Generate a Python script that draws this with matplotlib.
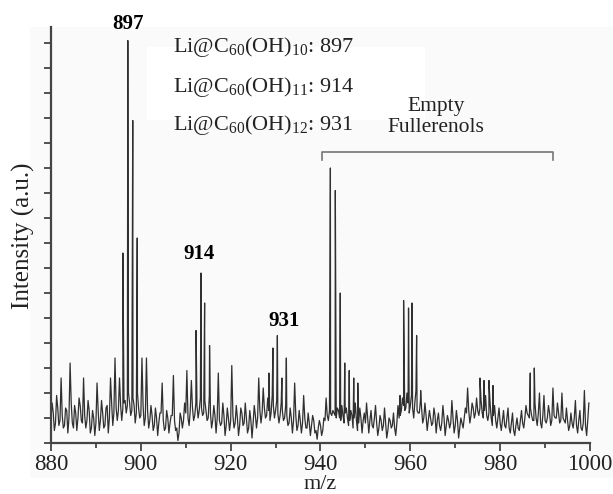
import matplotlib
matplotlib.use("Agg")
import matplotlib.pyplot as plt
import numpy as np
from matplotlib.patches import Rectangle

plt.rcParams['font.family'] = ['Liberation Serif', 'DejaVu Serif']
plt.rcParams['mathtext.fontset'] = 'custom'
plt.rcParams['mathtext.rm'] = 'Liberation Serif'
plt.rcParams['mathtext.it'] = 'Liberation Serif:italic'

# baseline noise, read every 0.5 m/z from 880.25 to 999.75 (arbitrary units)
noise_a = [
    1.6, 0.5, 1.9, 0.7, 2.6, 0.6, 1.4, 0.4, 3.2, 0.8, 1.5, 0.5, 1.8, 0.9, 2.6, 0.6, 1.7, 0.4, 1.3, 0.3,   # 880-890
    2.4, 0.5, 1.7, 0.6, 1.4, 0.4, 2.6, 0.7, 3.4, 0.9, 2.6, 0.9, 1.6, 1.2, 2.0, 1.1, 1.8, 0.8, 2.0, 1.0,   # 890-900
    3.4, 0.7, 3.4, 0.6, 1.5, 0.5, 1.4, 0.3, 1.2, 2.4, 0.5, 1.3, 0.4, 1.1, 2.7, 0.5, 0.1, 1.2, 0.6, 1.6,   # 900-910
    2.9, 0.7, 2.5, 0.9, 1.6, 1.0, 1.8, 1.1, 1.7, 0.9, 1.9, 0.6, 1.5, 0.4, 2.8, 0.7, 1.6, 0.3, 1.4, 0.5,   # 910-920
    3.1, 0.6, 1.5, 0.3, 1.4, 0.7, 1.6, 0.4, 1.3, 0.2, 1.5, 0.6, 2.6, 0.8, 2.2, 1.0, 1.8, 0.9, 1.9, 1.0,   # 920-930
    1.7, 0.8, 1.6, 0.9, 1.5, 0.7, 1.4, 0.4, 2.4, 0.5, 1.3, 0.4, 1.9, 0.6, 1.2, 0.3, 1.1, 0.4, 0.15, 0.9,  # 930-940
    0.3, 1.0, 1.8, 0.9, 1.2, 1.3, 1.1, 1.4, 1.0, 1.5, 0.8, 1.4, 0.7, 1.3, 0.6, 1.6, 0.5, 1.4, 0.4, 1.2,   # 940-950
    1.6, 0.4, 1.3, 0.6, 1.5, 0.3, 1.1, 0.5, 1.4, 0.2, 1.0, 0.6, 1.2, 0.3, 1.5, 1.1, 1.8, 1.3, 2.0, 1.2,   # 950-960
    1.9, 1.0, 2.1, 1.2, 1.7, 0.8, 1.6, 0.5, 1.3, 0.7, 1.4, 0.4, 1.2, 0.5, 1.5, 0.3, 1.1, 0.6, 1.7, 0.4,   # 960-970
    1.3, 0.2, 1.0, 0.6, 1.4, 2.2, 0.8, 1.6, 1.0, 1.8, 1.1, 1.7, 1.0, 1.9, 0.9, 1.6, 0.7, 1.5, 0.6, 1.4,   # 970-980
    0.5, 1.3, 0.6, 1.4, 0.4, 1.2, 0.3, 1.0, 0.5, 1.3, 0.6, 1.5, 1.1, 1.4, 0.9, 1.6, 0.7, 2.0, 0.6, 1.9,   # 980-990
    0.8, 1.5, 0.7, 2.2, 1.0, 1.6, 0.8, 2.0, 0.9, 1.4, 0.5, 1.2, 0.6, 1.7, 0.4, 1.3, 0.5, 2.1, 0.3, 1.6,   # 990-1000
]
# in-between noise samples, every 0.5 m/z from 880.0 to 999.5
noise_b = [
    1.0, 1.2, 0.8, 1.4, 0.9, 1.1, 0.7, 1.3, 1.0, 1.6, 0.6, 1.2, 1.0, 1.5, 0.8, 1.1, 0.9, 1.3, 0.6, 1.0,   # 880-890
    0.8, 1.3, 0.9, 1.2, 0.7, 1.5, 1.0, 1.6, 1.2, 1.4, 1.3, 1.5, 1.4, 1.7, 1.5, 1.6, 1.3, 1.5, 1.2, 1.4,   # 890-900
    1.1, 1.5, 1.0, 1.3, 0.9, 1.1, 0.7, 1.0, 0.8, 1.2, 0.9, 0.6, 1.0, 0.8, 1.1, 0.9, 0.6, 0.4, 1.0, 0.9,   # 900-910
    1.2, 1.0, 1.3, 1.4, 1.1, 1.5, 1.3, 1.4, 1.2, 1.3, 1.0, 1.2, 0.9, 1.1, 1.0, 0.9, 0.8, 1.1, 0.7, 1.0,   # 910-920
    0.9, 1.1, 0.8, 1.0, 0.7, 1.2, 0.8, 1.0, 0.6, 0.9, 0.8, 1.1, 1.0, 1.3, 1.2, 1.4, 1.1, 1.3, 1.2, 1.5,   # 920-930
    1.3, 1.2, 1.1, 1.3, 1.0, 1.1, 0.8, 1.0, 0.9, 1.1, 0.7, 0.9, 0.8, 1.0, 0.6, 0.8, 0.7, 0.9, 0.5, 0.6,   # 930-940
    0.7, 0.5, 0.9, 1.1, 1.3, 1.1, 1.2, 1.0, 1.3, 0.9, 1.1, 1.2, 1.0, 0.9, 1.1, 1.0, 0.9, 0.8, 1.0, 0.9,   # 940-950
    0.8, 1.0, 0.9, 0.7, 1.0, 0.8, 0.6, 0.9, 0.7, 0.8, 0.5, 0.9, 0.7, 0.6, 0.8, 1.0, 1.3, 1.5, 1.4, 1.6,   # 950-960
    1.5, 1.4, 1.6, 1.3, 1.2, 1.4, 1.0, 1.1, 0.9, 1.0, 0.8, 1.1, 0.9, 0.7, 0.8, 1.0, 0.7, 0.9, 0.8, 1.0,   # 960-970
    0.7, 0.9, 0.6, 0.8, 1.0, 1.2, 1.3, 1.1, 1.4, 1.2, 1.3, 1.4, 1.2, 1.3, 1.1, 1.2, 1.0, 1.1, 0.9, 1.0,   # 970-980
    0.8, 0.9, 0.7, 1.0, 0.6, 0.8, 0.5, 0.7, 0.6, 0.9, 0.8, 1.0, 1.2, 1.0, 1.1, 0.9, 1.0, 1.2, 0.8, 1.1,   # 980-990
    0.9, 1.0, 1.2, 0.9, 1.1, 1.0, 1.2, 0.9, 1.0, 0.8, 0.9, 0.7, 0.8, 1.0, 0.7, 0.9, 0.6, 0.8, 0.7, 0.9,   # 990-1000
]

# isotope peaks: position (m/z) and height
peak_mz = [896.0, 897.1, 898.2, 899.2,
           912.3, 913.4, 914.2, 915.3,
           928.5, 929.4, 930.4, 931.4, 932.4,
           942.2, 943.3, 944.4, 945.4, 946.4, 947.4, 948.3,
           957.7, 958.5, 959.6, 960.4, 961.4, 962.3,
           975.5, 976.4, 977.5, 978.4,
           986.7, 987.6]
peak_h = [7.6, 16.1, 12.9, 8.2,
          4.5, 6.8, 5.6, 3.9,
          2.8, 3.8, 4.3, 2.6, 3.4,
          11.0, 10.1, 6.0, 3.2, 2.9, 2.6, 2.4,
          1.9, 5.7, 5.4, 5.6, 4.3, 2.1,
          2.6, 2.5, 2.5, 2.3,
          2.8, 3.0]

peak_labels = ['897', '914', '931']
label_pos = [(897.1, 16.56), (913.0, 7.36), (931.8, 4.68)]

species = [r'Li@C$_{\mathrm{60}}$(OH)$_{\mathrm{10}}$: 897',
           r'Li@C$_{\mathrm{60}}$(OH)$_{\mathrm{11}}$: 914',
           r'Li@C$_{\mathrm{60}}$(OH)$_{\mathrm{12}}$: 931']
species_y = [15.64, 14.04, 12.52]
bracket = (940.4, 991.8)

mz_a = np.arange(880.25, 1000, 0.5)
mz_b = np.arange(880.0, 1000, 0.5)
mz = np.concatenate([mz_a, mz_b, peak_mz])
inten = np.concatenate([noise_a, noise_b, peak_h])
order = np.argsort(mz)
mz, inten = mz[order], inten[order]

W, H = 613, 494
fig = plt.figure(figsize=(W / 100, H / 100), dpi=100, facecolor='white')
fig.patches.append(Rectangle((30 / W, (H - 478) / H), 1 - 30 / W, (478 - 27) / H,
                             transform=fig.transFigure, facecolor='#fafafa',
                             edgecolor='none', zorder=-10))
ax = fig.add_axes([51 / W, (H - 443) / H, 539 / W, 416 / H])
ax.set_facecolor('#fafafa')

# white box behind the species list
ax.add_patch(Rectangle((147 / W, (H - 120) / H), 278 / W, 73 / H, transform=fig.transFigure,
                       facecolor='white', edgecolor='none', zorder=0.5))

ax.plot(mz, inten, color='#303030', lw=0.9, zorder=2)

ax.set_xlim(880, 1000)
ax.set_ylim(0, 16.64)
ax.set_xticks(np.arange(880, 1001, 20))
ax.set_xticks(np.arange(890, 1000, 20), minor=True)
ax.set_yticks(np.arange(0, 17, 1))
ax.set_yticklabels([])
ax.tick_params(axis='x', which='major', direction='out', length=6, width=1.3,
               colors='#444444', labelcolor='#222222', labelsize=16.5, pad=2)
ax.tick_params(axis='x', which='minor', direction='out', length=3.5, width=1.3, colors='#444444')
ax.tick_params(axis='y', direction='out', length=5, width=1.3, colors='#444444')
for s in ['top', 'right']:
    ax.spines[s].set_visible(False)
for s in ['left', 'bottom']:
    ax.spines[s].set_color('#444444')
    ax.spines[s].set_linewidth(1.6)

ax.set_xlabel('m/z', fontsize=16, color='#222222', labelpad=0)
fig.text(23 / W, (H - 236) / H, 'Intensity (a.u.)', rotation=90, ha='center', va='center',
         fontsize=18, color='#222222')

for lab, (x, y) in zip(peak_labels, label_pos):
    ax.text(x, y, lab, ha='center', va='baseline', fontsize=15, fontweight='bold', color='black')

for s, y in zip(species, species_y):
    ax.text(907.2, y, s, ha='left', va='baseline', fontsize=16, color='#222222')

ax.text(965.7, 13.04, 'Empty\nFullerenols', ha='center', va='center', fontsize=15.5,
        color='#222222', linespacing=1.1)
ax.plot([bracket[0], bracket[0], bracket[1], bracket[1]], [11.32, 11.64, 11.64, 11.32],
        color='#777777', lw=1.2)

fig.savefig('out.png', dpi=100)
